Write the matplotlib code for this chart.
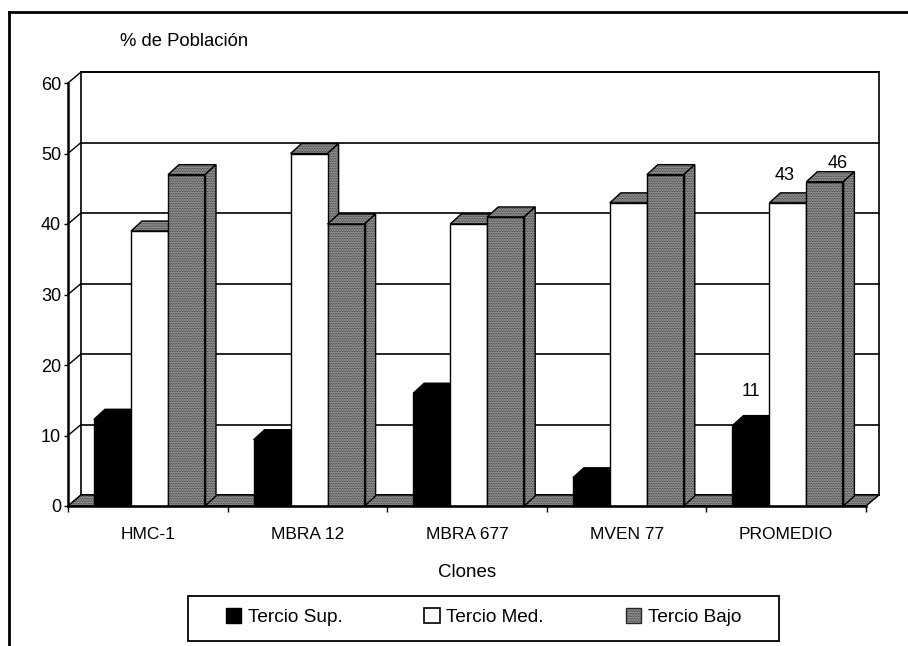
import matplotlib
matplotlib.use('Agg')
import matplotlib.pyplot as plt
from matplotlib.lines import Line2D
from matplotlib.patches import Patch, Polygon, Rectangle
import numpy as np

plt.rcParams['font.family'] = 'Liberation Sans'
plt.rcParams['font.size'] = 13
plt.rcParams['hatch.linewidth'] = 0.5

# Data
clones = ['HMC-1', 'MBRA 12', 'MBRA 677', 'MVEN 77', 'PROMEDIO']
series_names = ['Tercio Sup.', 'Tercio Med.', 'Tercio Bajo']
tercio_sup = [12.3, 9.4, 16, 4, 11.4]
tercio_med = [39, 50, 40, 43, 43]
tercio_bajo = [47, 40, 41, 47, 46]
y_ticks = [0, 10, 20, 30, 40, 50, 60]

W, H = 908, 646
fig = plt.figure(figsize=(W / 100, H / 100), dpi=100)

# Front plane of the fake 3D box, in pixels
left, right, top, bottom = 68, 866, 83, 506
ax = fig.add_axes([left / W, 1 - bottom / H, (right - left) / W, (bottom - top) / H])
ax.set_xlim(0, 5)
ax.set_ylim(0, 60)
ax.patch.set_alpha(0)

# pixel offsets turned into data units
px_x = 5 / (right - left)
px_y = 60 / (bottom - top)
wall_dx, wall_dy = 13 * px_x, 11 * px_y
bar_dx, bar_dy = 11 * px_x, 10 * px_y
bar_w = 37 * px_x
group_start = 26 * px_x

GRAY = '#9a9a9a'
GRAY_DOTS = '#262626'


def gray_poly(points, z, edge=1.0):
    # halftone look of the scanned gray
    ax.add_patch(Polygon(points, closed=True, facecolor=GRAY, edgecolor=GRAY_DOTS,
                         hatch='..........', lw=0, zorder=z, clip_on=False))
    ax.add_patch(Polygon(points, closed=True, fill=False, edgecolor='black',
                         lw=edge, zorder=z, clip_on=False))


# Back wall and gridlines
ax.add_patch(Polygon([(wall_dx, wall_dy), (5 + wall_dx, wall_dy), (5 + wall_dx, 60 + wall_dy), (wall_dx, 60 + wall_dy)],
                     closed=True, facecolor='white', edgecolor='black', lw=1.2, zorder=1, clip_on=False))
for v in y_ticks:
    ax.plot([wall_dx, 5 + wall_dx], [v + wall_dy, v + wall_dy], color='black', lw=1.2, zorder=1, clip_on=False)
    ax.plot([0, wall_dx], [v, v + wall_dy], color='black', lw=1.0, zorder=1, clip_on=False)

# Floor
gray_poly([(0, 0), (5, 0), (5 + wall_dx, wall_dy), (wall_dx, wall_dy)], 2)


def draw_bar(x0, value, kind, z):
    x1 = x0 + bar_w
    top_face = [(x0, value), (x1, value), (x1 + bar_dx, value + bar_dy), (x0 + bar_dx, value + bar_dy)]
    side_face = [(x1, 0), (x1 + bar_dx, bar_dy), (x1 + bar_dx, value + bar_dy), (x1, value)]
    front_face = [(x0, 0), (x1, 0), (x1, value), (x0, value)]
    if kind == 'black':
        ax.add_patch(Polygon(top_face, closed=True, color='black', zorder=z, clip_on=False))
        ax.add_patch(Polygon(side_face, closed=True, color='black', zorder=z, clip_on=False))
        ax.add_patch(Polygon(front_face, closed=True, color='black', zorder=z, clip_on=False))
    elif kind == 'white':
        gray_poly(top_face, z)
        gray_poly(side_face, z)
        ax.add_patch(Polygon(front_face, closed=True, facecolor='white', edgecolor='black',
                             lw=1.0, zorder=z, clip_on=False))
    else:
        gray_poly(top_face, z)
        gray_poly(side_face, z)
        gray_poly(front_face, z)
        # heavy right edge of the front face
        ax.plot([x1, x1], [0, value], color='black', lw=1.6, zorder=z, clip_on=False)


kinds = ['black', 'white', 'gray']
values = [tercio_sup, tercio_med, tercio_bajo]
for i in range(len(clones)):
    for j in range(3):
        draw_bar(i + group_start + j * bar_w, values[j][i], kinds[j], 3 + i * 3 + j)

# Value labels on PROMEDIO only
ax.text(4 + group_start + 0.5 * bar_w, tercio_sup[4] + 34 * px_y, '11', ha='center', va='center', fontsize=13, zorder=30)
ax.text(4 + group_start + 1.5 * bar_w - 3 * px_x, tercio_med[4] + 27 * px_y, '43', ha='center', va='center', fontsize=13, zorder=30)
ax.text(4 + group_start + 2.5 * bar_w + 13 * px_x, tercio_bajo[4] + 18 * px_y, '46', ha='center', va='center', fontsize=13, zorder=30)

# Axes
for s in ['top', 'right']:
    ax.spines[s].set_visible(False)
ax.spines['left'].set_linewidth(1.8)
ax.spines['bottom'].set_linewidth(1.8)
ax.spines['left'].set_zorder(40)
ax.spines['bottom'].set_zorder(40)
ax.set_yticks(y_ticks)
ax.tick_params(axis='y', length=3, width=1.0, pad=2, labelsize=13)
ax.set_xticks(np.arange(0, 6))
ax.set_xticklabels([])
ax.set_xticks(np.arange(len(clones)) + 0.5, clones, minor=True)
ax.tick_params(axis='x', which='major', length=4, width=1.0)
ax.tick_params(axis='x', which='minor', length=0, pad=15, labelsize=12.5)
ax.set_xlabel('Clones', fontsize=13.5, labelpad=16)

fig.text(184 / W, 1 - 42 / H, '% de Población', ha='center', va='center', fontsize=13.3)

# Page frame from the scan
fig.add_artist(Line2D([9 / W, 9 / W], [0, 1 - 12 / H], color='black', lw=2))
fig.add_artist(Line2D([9 / W, 1], [1 - 12 / H, 1 - 12 / H], color='black', lw=2))

# Legend, the box is drawn by hand so its padding can differ from the text spacing
fig.add_artist(Rectangle((188 / W, 1 - 641 / H), 591 / W, 45 / H, transform=fig.transFigure,
                         facecolor='white', edgecolor='black', lw=1.3))
handles = [Patch(facecolor='black', edgecolor='black'),
           Patch(facecolor='white', edgecolor='black', lw=1.2),
           Patch(facecolor=GRAY, edgecolor=GRAY_DOTS, hatch='..........')]
leg = fig.legend(handles, series_names, ncol=3, loc='center', bbox_to_anchor=(483.5 / W, 1 - 617 / H),
                 frameon=False, fontsize=13.7, handlelength=0.8, handleheight=0.8,
                 handletextpad=0.35, columnspacing=4.3, borderpad=0, borderaxespad=0)
leg.set_zorder(5)

fig.savefig('out.png', dpi=100)
